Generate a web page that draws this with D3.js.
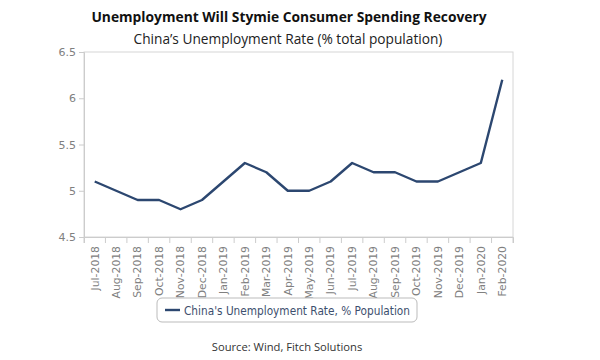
<!DOCTYPE html>
<html><head><meta charset="utf-8">
<script src="https://cdn.jsdelivr.net/npm/d3@7"></script>
<style>body{margin:0;background:#fff}svg{display:block}</style>
</head><body>
<svg id="c" width="600" height="360"></svg>
<script>
const months = ["Jul-2018","Aug-2018","Sep-2018","Oct-2018","Nov-2018","Dec-2018","Jan-2019","Feb-2019","Mar-2019","Apr-2019","May-2019","Jun-2019","Jul-2019","Aug-2019","Sep-2019","Oct-2019","Nov-2019","Dec-2019","Jan-2020","Feb-2020"];
const rates = [5.1,5.0,4.9,4.9,4.8,4.9,5.1,5.3,5.2,5.0,5.0,5.1,5.3,5.2,5.2,5.1,5.1,5.2,5.3,6.2];
const yTicks = [4.5,5,5.5,6,6.5];
const seriesName = "China's Unemployment Rate, % Population";

const svg = d3.select("#c");
const L=84,R=513,T=52,B=237;
const x = d3.scaleBand().domain(months).range([L,R]);
const y = d3.scaleLinear().domain([4.5,6.5]).range([B,T]);

svg.append("text").attr("x",289).attr("y",22).attr("text-anchor","middle")
  .attr("font-family","Open Sans").attr("font-weight","bold").attr("font-size",13.8).attr("fill","#111")
  .text("Unemployment Will Stymie Consumer Spending Recovery");
svg.append("text").attr("x",288).attr("y",44).attr("text-anchor","middle")
  .attr("font-family","Open Sans").attr("font-size",13.7).attr("fill","#222")
  .text("China\u2019s Unemployment Rate (% total population)");

// plot frame
svg.append("rect").attr("x",L).attr("y",T).attr("width",R-L).attr("height",B-T)
  .attr("fill","none").attr("stroke","#d6d6d6").attr("stroke-width",1);

const ya = svg.append("g").attr("transform",`translate(${L},0)`)
  .call(d3.axisLeft(y).tickValues(yTicks).tickFormat(d=>String(d)).tickSize(5).tickPadding(3));
const xa = svg.append("g").attr("transform",`translate(0,${B})`)
  .call(d3.axisBottom(x).tickSize(6).tickPadding(4));
xa.selectAll(".tick line").attr("transform",`translate(${-x.bandwidth()/2},0)`);
xa.append("line").attr("x1",R).attr("x2",R).attr("y1",0).attr("y2",6).attr("stroke","#ccc");
[ya,xa].forEach(g=>{
  g.select(".domain").attr("stroke","#ccc");
  g.selectAll(".tick line").attr("stroke","#ccc");
  g.selectAll("text").attr("fill","#808080").attr("font-family","DejaVu Sans").attr("font-size",11);
});
xa.selectAll("text").attr("font-size",10.8).attr("transform","rotate(-90)")
  .attr("text-anchor","end").attr("dy","0.35em").attr("x",-9).attr("y",0);

const line = d3.line().x((d,i)=>x(months[i])+x.bandwidth()/2).y(d=>y(d));
svg.append("path").datum(rates).attr("d",line).attr("fill","none")
  .attr("stroke","#2c4770").attr("stroke-width",2.4).attr("stroke-linejoin","round");

// legend
const lg = svg.append("g");
lg.append("rect").attr("x",157).attr("y",298).attr("width",260).attr("height",24).attr("rx",5)
  .attr("fill","#fff").attr("stroke","#bbb");
lg.append("line").attr("x1",165).attr("x2",180).attr("y1",310).attr("y2",310).attr("stroke","#2c4770").attr("stroke-width",2.4);
lg.append("text").attr("x",184).attr("y",314.5).attr("font-family","DejaVu Sans").attr("font-size",11.5)
  .attr("fill","#3d4f6e").attr("textLength",226).attr("lengthAdjust","spacingAndGlyphs").text(seriesName);

svg.append("text").attr("x",287).attr("y",351).attr("text-anchor","middle")
  .attr("font-family","Open Sans").attr("font-size",11.2).attr("fill","#333")
  .text("Source: Wind, Fitch Solutions");
</script>
</body></html>
